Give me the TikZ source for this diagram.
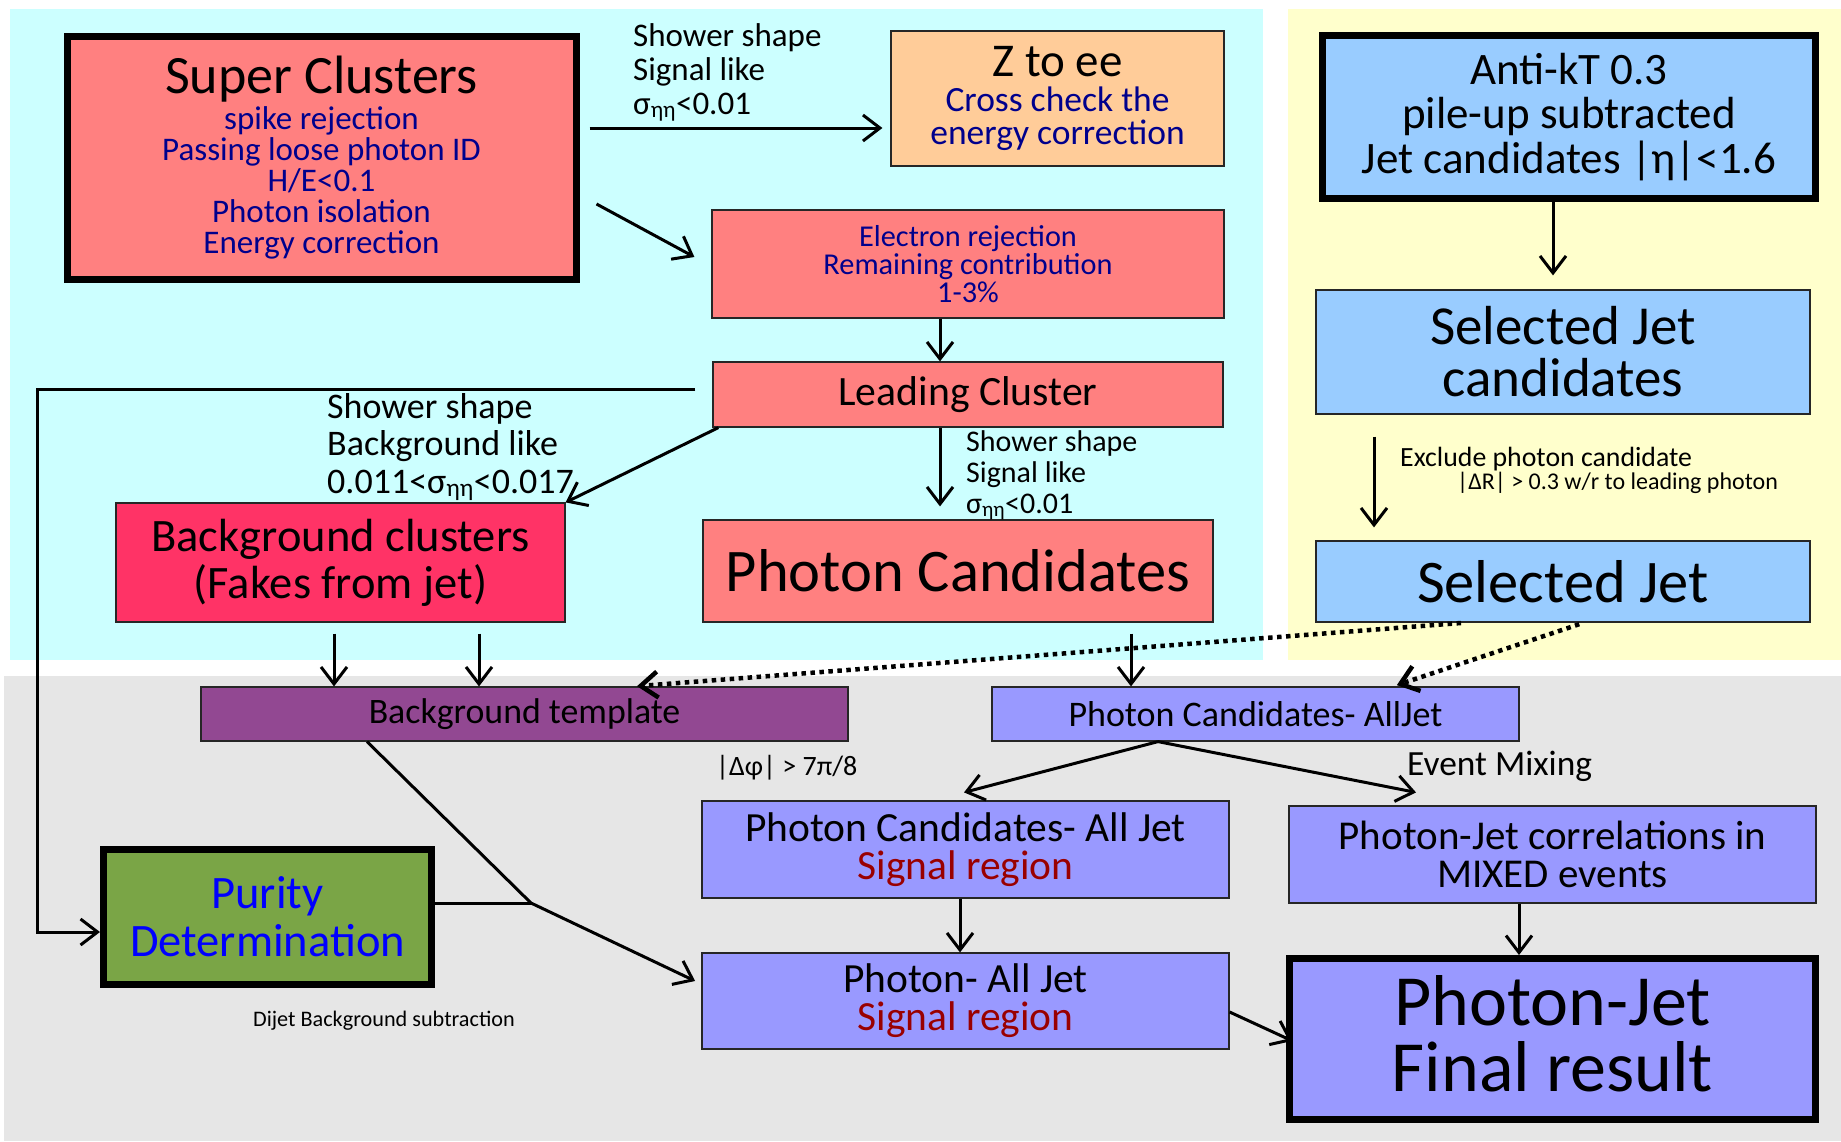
\documentclass[tikz,border=0pt]{standalone}
\usepackage{fontspec}
\setmainfont{Carlito}
\usetikzlibrary{arrows.meta,calc}
\definecolor{cyanbg}{RGB}{204,255,255}
\definecolor{yellowbg}{RGB}{255,255,204}
\definecolor{graybg}{RGB}{230,230,230}
\definecolor{salmon}{RGB}{255,128,128}
\definecolor{peach}{RGB}{255,204,153}
\definecolor{rosered}{RGB}{255,51,102}
\definecolor{plum}{RGB}{146,72,146}
\definecolor{skyblue}{RGB}{153,204,255}
\definecolor{lavender}{RGB}{153,153,255}
\definecolor{puritygreen}{RGB}{122,165,70}
\definecolor{navytext}{RGB}{0,0,140}
\definecolor{darkredtext}{RGB}{153,0,0}
\tikzset{
  box/.style={draw=black!85, line width=1.2pt, inner sep=0pt, align=center},
  heavybox/.style={draw=black, line width=7pt, inner sep=0pt, align=center},
  flow/.style={line width=3pt, -{Straight Barb[length=17pt,width=26pt]}},
  jetflow/.style={line width=4.5pt, dash pattern=on 4.5pt off 4.5pt, -{Straight Barb[length=17pt,width=26pt]}},
  tag/.style={inner sep=0pt, align=left, anchor=north west},
}
\begin{document}
\begin{tikzpicture}[x=1pt,y=-1pt]
\useasboundingbox (0,0) rectangle (1841,1141);
\fill[cyanbg] (10,9) rectangle (1263,660);
\fill[yellowbg] (1288,9) rectangle (1841,660);
\fill[graybg] (4,676) rectangle (1841,1141);

\node (sc) [heavybox, fill=salmon, text=navytext, minimum width=509pt, minimum height=243pt, font=\fontsize{33}{31}\selectfont] at (321.5,157.5)
  {\textcolor{black}{\fontsize{54}{54}\selectfont Super Clusters}\\[3pt] spike rejection\\ Passing loose photon ID\\ H/E<0.1\\ Photon isolation\\ Energy correction};
\node (zee) [box, fill=peach, text=navytext, minimum width=333pt, minimum height=135pt, font=\fontsize{35.5}{33}\selectfont] at (1057.5,98.5)
  {\textcolor{black}{\fontsize{47}{47}\selectfont Z to ee}\\[2pt] Cross check the\\ energy correction};
\node (erej) [box, fill=salmon, text=navytext, minimum width=512pt, minimum height=108pt, font=\fontsize{30.3}{28}\selectfont] at (968,264)
  {Electron rejection\\ Remaining contribution\\ 1-3\%};
\node (lead) [box, fill=salmon, minimum width=510pt, minimum height=65pt, font=\fontsize{41.7}{41.7}\selectfont] at (968,394.5) {Leading Cluster};
\node (bkgcl) [box, fill=rosered, minimum width=449pt, minimum height=119pt, font=\fontsize{46.5}{47}\selectfont] at (340.5,562.5)
  {Background clusters\\ (Fakes from jet)};
\node (phcand) [box, fill=salmon, minimum width=510pt, minimum height=102pt, font=\fontsize{60.5}{60.5}\selectfont] at (958,571) {Photon Candidates};
\node (antikt) [heavybox, fill=skyblue, minimum width=493pt, minimum height=163pt, font=\fontsize{45}{44.5}\selectfont] at (1569,117)
  {Anti-kT 0.3\\ pile-up subtracted\\ Jet candidates |η|<1.6};
\node (seljc) [box, fill=skyblue, minimum width=494pt, minimum height=124pt, font=\fontsize{55}{52}\selectfont] at (1563,352)
  {Selected Jet\\ candidates};
\node (selj) [box, fill=skyblue, minimum width=494pt, minimum height=81pt, font=\fontsize{60.5}{60.5}\selectfont] at (1563,581.5) {Selected Jet};
\node (bkgtpl) [box, fill=plum, minimum width=647pt, minimum height=54pt, font=\fontsize{35.8}{35.8}\selectfont] at (524.5,714) {Background template};
\node (pcall) [box, fill=lavender, minimum width=527pt, minimum height=54pt, font=\fontsize{36}{36}\selectfont] at (1255.5,714) {Photon Candidates- AllJet};
\node (purity) [heavybox, fill=puritygreen, text=blue, minimum width=328pt, minimum height=135pt, font=\fontsize{46.5}{48}\selectfont] at (267.5,917)
  {Purity\\ Determination};
\node (pcsig) [box, fill=lavender, minimum width=527pt, minimum height=97pt, font=\fontsize{41.5}{38}\selectfont] at (965.5,849.5)
  {Photon Candidates- All Jet\\ \textcolor{darkredtext}{Signal region}};
\node (pjsig) [box, fill=lavender, minimum width=527pt, minimum height=96pt, font=\fontsize{41.5}{38}\selectfont] at (965.5,1001)
  {Photon- All Jet\\ \textcolor{darkredtext}{Signal region}};
\node (mixed) [box, fill=lavender, minimum width=527pt, minimum height=97pt, font=\fontsize{41}{38}\selectfont] at (1552.5,854.5)
  {Photon-Jet correlations in\\ MIXED events};
\node (final) [heavybox, fill=lavender, minimum width=526pt, minimum height=161pt, text depth=12pt, font=\fontsize{72}{66}\selectfont] at (1552.5,1039)
  {Photon-Jet\\ Final result};

\node (cutz) [tag, font=\fontsize{33}{34}\selectfont] at (633,23) {Shower shape\\ Signal like\\ σ\textsubscript{ηη}<0.01};
\node (cutsig) [tag, font=\fontsize{30}{31}\selectfont] at (966,430) {Shower shape\\ Signal like\\ σ\textsubscript{ηη}<0.01};
\node (cutbkg) [tag, font=\fontsize{36}{37.5}\selectfont] at (327,393) {Shower shape\\ Background like\\ 0.011<σ\textsubscript{ηη}<0.017};
\node (cutjet) [tag, font=\fontsize{27.8}{23}\selectfont] at (1400,447)
  {Exclude photon candidate\\ \hspace*{57pt}{\fontsize{24}{23}\selectfont |ΔR| > 0.3 w/r to leading photon}};
\node (cutphi) [inner sep=0pt, anchor=base west, font=\fontsize{28}{28}\selectfont] at (716,775) {|Δφ| > 7π/8};
\node (mixing) [inner sep=0pt, anchor=base west, font=\fontsize{35.4}{35.4}\selectfont] at (1407,775) {Event Mixing};
\node (dijet) [inner sep=0pt, anchor=base west, font=\fontsize{22.2}{22.2}\selectfont] at (253,1026) {Dijet Background subtraction};

\draw[flow, shorten <=10pt, shorten >=8pt] (sc.east |- 0,128) -- (zee.west |- 0,128);
\draw[flow] ($(sc.east |- 0,204)+(17,0)$) -- ($(erej.west |- 0,257)+(-17,0)$);
\draw[flow] (erej.south -| 940,0) -- (lead.north -| 940,0);
\draw[flow, shorten >=13pt] (lead.south -| 940,0) -- (phcand.north -| 940,0);
\draw[flow, shorten <=17pt] (lead.west |- 0,389) -| (37,932) -- (purity.west |- 0,932);
\draw[flow] ($(lead.south west)+(6,0)$) -- (bkgcl.north east);
\foreach \x in {334,479}
  \draw[flow, shorten <=11pt] (bkgcl.south -| \x,0) -- (bkgtpl.north -| \x,0);
\draw[flow, shorten <=11pt] (phcand.south -| 1131,0) -- (pcall.north -| 1131,0);
\draw[flow, shorten >=14pt] (antikt.south -| 1553,0) -- (seljc.north -| 1553,0);
\draw[flow, shorten <=22pt, shorten >=13pt] (seljc.south -| 1374,0) -- (selj.north -| 1374,0);
\draw[jetflow, shorten <=5pt, shorten >=3pt] (selj.south -| 1466,0) -- (bkgtpl.north -| 634,0);
\draw[jetflow, shorten <=5pt, shorten >=4pt] (selj.south -| 1584,0) -- (pcall.north -| 1393,0);
\draw[flow] (pcall.south -| 1158,0) -- ($(pcsig.north -| 964,0)+(0,-8)$);
\draw[flow] (pcall.south -| 1158,0) -- ($(mixed.north -| 1416,0)+(0,-13)$);
\coordinate (merge) at (531,903);
\draw[line width=3pt] (purity.east |- merge) -- (merge);
\draw[flow, shorten >=7pt] (bkgtpl.south -| 367,0) -- (merge) -- (pjsig.west |- 0,984);
\draw[flow] (pcsig.south -| 960,0) -- (pjsig.north -| 960,0);
\draw[flow] (mixed.south -| 1519,0) -- (final.north -| 1519,0);
\draw[flow, shorten >=-7pt] (pjsig.east |- 0,1012) -- (final.west |- 0,1038);
\end{tikzpicture}
\end{document}
